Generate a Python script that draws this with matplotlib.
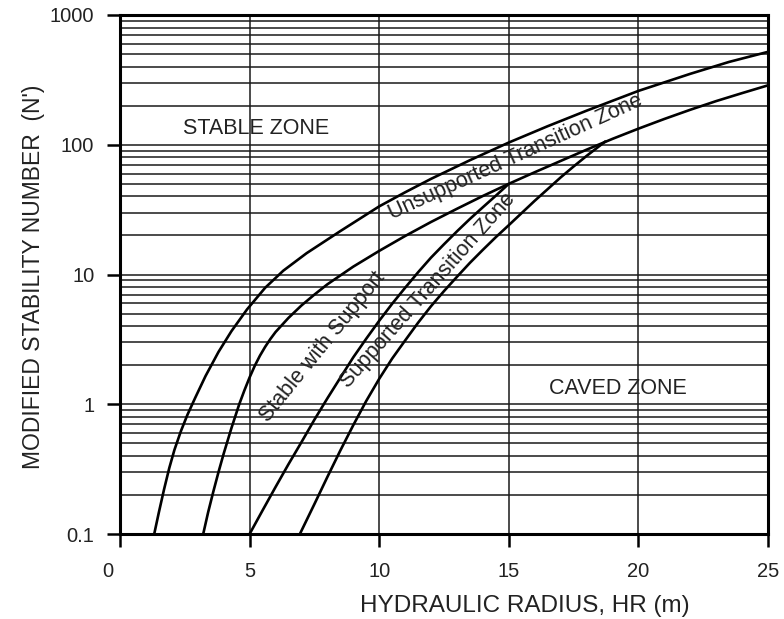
import matplotlib
matplotlib.use("Agg")
import matplotlib.pyplot as plt
from matplotlib.ticker import FixedLocator, FixedFormatter, NullFormatter
from matplotlib.transforms import ScaledTranslation

plt.rcParams['font.family'] = ['Liberation Sans', 'DejaVu Sans']

# Stability graph boundaries: hydraulic radius HR (m) vs modified stability number N'
stable_hr = [1.32, 1.5, 1.7, 1.9, 2.1, 2.35, 2.6, 2.9, 3.3, 3.8, 4.3, 4.9, 5.6,
             6.3, 7.2, 8.5, 10.0, 11.0, 12.0, 13.5, 15.0, 16.5, 18.0, 20.0, 22.0,
             23.5, 25.0]
stable_n = [0.100, 0.147, 0.221, 0.322, 0.445, 0.621, 0.828, 1.12, 1.65, 2.53,
            3.66, 5.38, 7.9, 10.7, 14.6, 21.6, 33.5, 43, 54.6, 76, 104, 139, 183,
            260, 352, 435, 520]

unsup_hr = [3.21, 3.4, 3.6, 3.8, 4.0, 4.3, 4.6, 4.8, 5.0, 5.2, 5.4, 5.6, 5.8,
            6.0, 6.5, 7.0, 7.5, 8.0, 9.0, 10.0, 11.0, 12.0, 13.0, 14.0, 15.0,
            16.0, 17.0, 18.0, 19.0, 20.0, 21.0, 22.0, 23.0, 24.0, 25.0]
unsup_n = [0.100, 0.147, 0.212, 0.30, 0.416, 0.656, 1.0, 1.28, 1.61, 1.98, 2.37,
           2.77, 3.18, 3.6, 4.63, 5.77, 7.0, 8.4, 11.5, 15.2, 19.8, 25.4, 32.1,
           40.3, 50, 61.4, 75, 91.6, 111, 133, 158, 186, 217, 250, 287]

support_hr = [5.0, 5.5, 6.0, 6.5, 7.0, 7.5, 8.0, 8.5, 9.0, 9.5, 10.0, 10.5, 11.0,
              11.5, 12.0, 12.5, 13.0, 13.5, 14.0, 14.5, 15.0]
support_n = [0.10, 0.152, 0.23, 0.345, 0.51, 0.76, 1.11, 1.6, 2.3, 3.2, 4.4, 5.95,
             7.9, 10.4, 13.5, 17.1, 21.5, 26.8, 33, 40.5, 50]

caved_hr = [6.94, 7.5, 8.0, 8.5, 9.0, 9.5, 10.0, 10.5, 11.0, 11.5, 12.0, 12.5,
            13.0, 13.5, 14.0, 14.5, 15.0, 15.5, 16.0, 16.5, 17.0, 17.5, 18.0,
            18.75]
caved_n = [0.10, 0.17, 0.275, 0.44, 0.69, 1.06, 1.57, 2.25, 3.1, 4.25, 5.7, 7.45,
           9.6, 12.3, 15.5, 19.4, 24, 29.8, 37, 45.5, 56, 68, 82, 107]

x_ticks = [0, 5, 10, 15, 20, 25]
y_ticks = [0.1, 1, 10, 100, 1000]
y_tick_labels = ['0.1', '1', '10', '100', '1000']

fig = plt.figure(figsize=(7.84, 6.19), dpi=100)
ax = fig.add_axes([120 / 784, 1 - 534 / 619, 648 / 784, 519 / 619])

ax.set_yscale('log')
ax.set_xlim(0, 25)
ax.set_ylim(0.1, 1000)

# grid: vertical at every 5 m, horizontal at each decade subdivision
for xv in x_ticks[1:-1]:
    ax.axvline(xv, color='#1a1a1a', lw=1.1, zorder=1)
for dec in [0.1, 1, 10, 100]:
    for k in range(1, 10):
        v = dec * k
        if 0.1 < v < 1000:
            ax.axhline(v, color='#1a1a1a', lw=1.1, zorder=1)

for xs, ys in [(stable_hr, stable_n), (unsup_hr, unsup_n),
               (support_hr, support_n), (caved_hr, caved_n)]:
    ax.plot(xs, ys, color='black', lw=1.9, zorder=3, solid_joinstyle='round',
            solid_capstyle='butt')

ax.xaxis.set_major_locator(FixedLocator(x_ticks))
ax.yaxis.set_major_locator(FixedLocator(y_ticks))
ax.yaxis.set_major_formatter(FixedFormatter(y_tick_labels))
ax.yaxis.set_minor_locator(FixedLocator([]))
ax.yaxis.set_minor_formatter(NullFormatter())

ax.tick_params(axis='both', which='major', direction='out', length=9.5, width=1.8,
               labelsize=14.5, colors='black', labelcolor='#222222')
ax.tick_params(axis='x', pad=11)
ax.tick_params(axis='y', pad=9)

for sp in ax.spines.values():
    sp.set_linewidth(2.2)
    sp.set_zorder(4)

first = ax.xaxis.get_major_ticks()[0].label1
first.set_transform(first.get_transform()
                    + ScaledTranslation(-12 / 100, 0, fig.dpi_scale_trans))

ax.set_xlabel('HYDRAULIC RADIUS, HR (m)', fontsize=17.5, color='#222222')
ax.xaxis.set_label_coords(0.625, -0.117)
ax.set_ylabel("MODIFIED STABILITY NUMBER  (N')", fontsize=16.5, color='#222222')
ax.yaxis.set_label_coords(-0.116, 0.495)

txt = dict(color='#222222', ha='center', va='center', rotation_mode='anchor',
           fontsize=15.5, zorder=5)
ax.text(5.25, 134, 'STABLE ZONE', **txt)
ax.text(19.2, 1.32, 'CAVED ZONE', **txt)
ax.text(15.25, 80, 'Unsupported Transition Zone', rotation=24.5, **txt)
ax.text(7.8, 2.75, 'Stable with Support', rotation=51, **txt)
ax.text(11.9, 7.6, 'Supported Transition Zone', rotation=48.5, **txt)

fig.savefig('out.png', dpi=100, facecolor='white')
